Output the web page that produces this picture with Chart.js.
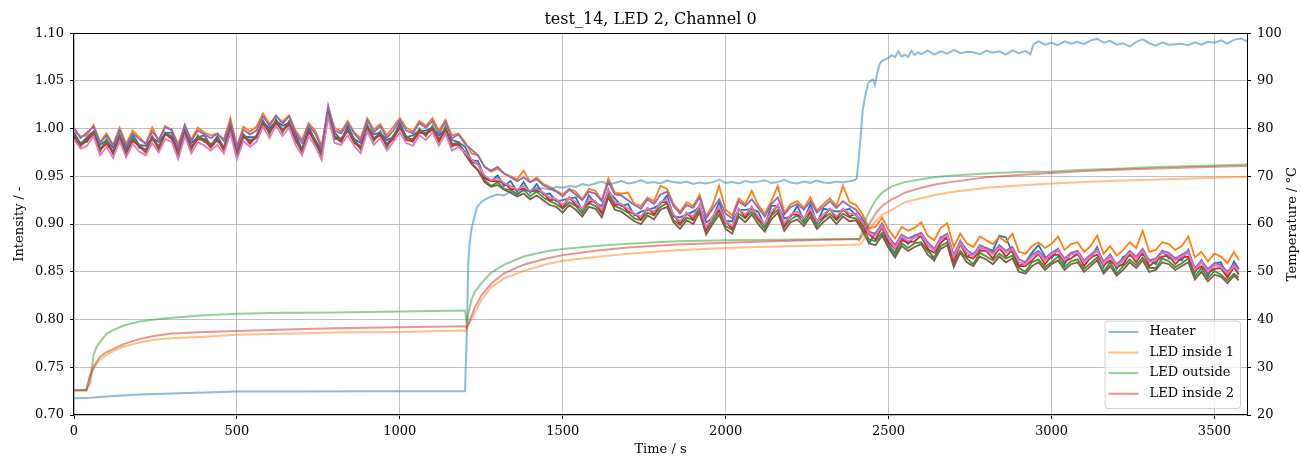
<!DOCTYPE html>
<html>
<head>
<meta charset="utf-8">
<script src="https://cdn.jsdelivr.net/npm/chart.js@4.4.1/dist/chart.umd.min.js"></script>
<style>
html, body { margin: 0; padding: 0; background: #fff; }
#wrap { width: 1301px; height: 457px; }
</style>
</head>
<body>
<div id="wrap"><canvas id="chart" width="1301" height="457"></canvas></div>
<script>
// time axis of the intensity samples (s)
var tInt = [
  0,20,40,60,80,100,120,140,160,180,
  200,220,240,260,280,300,320,340,360,380,
  400,420,440,460,480,500,520,540,560,580,
  600,620,640,660,680,700,720,740,760,780,
  800,820,840,860,880,900,920,940,960,980,
  1000,1020,1040,1060,1080,1100,1120,1140,1160,1180,
  1200,1220,1240,1260,1280,1300,1320,1340,1360,1380,
  1400,1420,1440,1460,1480,1500,1520,1540,1560,1580,
  1600,1620,1640,1660,1680,1700,1720,1740,1760,1780,
  1800,1820,1840,1860,1880,1900,1920,1940,1960,1980,
  2000,2020,2040,2060,2080,2100,2120,2140,2160,2180,
  2200,2220,2240,2260,2280,2300,2320,2340,2360,2380,
  2400,2420,2440,2460,2480,2500,2520,2540,2560,2580,
  2600,2620,2640,2660,2680,2700,2720,2740,2760,2780,
  2800,2820,2840,2860,2880,2900,2920,2940,2960,2980,
  3000,3020,3040,3060,3080,3100,3120,3140,3160,3180,
  3200,3220,3240,3260,3280,3300,3320,3340,3360,3380,
  3400,3420,3440,3460,3480,3500,3520,3540,3560,3575
];

// normalised intensity, one list per curve (left axis)
var int0 = [
  0.996,0.984,0.991,0.997,0.983,0.988,0.980,0.993,0.979,0.994,
  0.983,0.982,0.990,0.986,0.995,0.996,0.975,0.998,0.985,0.991,
  0.993,0.982,0.992,0.980,1.004,0.979,0.992,0.991,0.991,1.007,
  1.000,1.008,1.003,1.006,0.994,0.978,1.002,0.988,0.978,1.015,
  0.996,0.988,1.003,0.989,0.985,1.002,0.994,0.996,0.988,0.991,
  1.006,0.991,0.993,0.998,0.998,1.001,0.993,1.000,0.988,0.986,
  0.981,0.967,0.966,0.949,0.945,0.951,0.940,0.945,0.934,0.944,
  0.933,0.942,0.931,0.932,0.924,0.925,0.927,0.928,0.914,0.930,
  0.922,0.919,0.934,0.927,0.919,0.921,0.909,0.913,0.915,0.917,
  0.921,0.930,0.908,0.907,0.910,0.913,0.918,0.902,0.906,0.923,
  0.903,0.903,0.915,0.915,0.916,0.913,0.898,0.919,0.919,0.906,
  0.908,0.919,0.904,0.921,0.901,0.916,0.915,0.913,0.914,0.916,
  0.909,0.904,0.880,0.891,0.897,0.878,0.870,0.886,0.879,0.888,
  0.887,0.875,0.862,0.886,0.884,0.860,0.882,0.866,0.869,0.874,
  0.875,0.872,0.888,0.886,0.870,0.856,0.860,0.870,0.878,0.866,
  0.864,0.874,0.858,0.870,0.868,0.862,0.864,0.876,0.855,0.868,
  0.853,0.866,0.867,0.866,0.868,0.863,0.858,0.872,0.864,0.864,
  0.862,0.873,0.849,0.862,0.846,0.859,0.860,0.845,0.861,0.853
];
var int1 = [
  0.998,0.992,0.993,1.004,0.986,0.995,0.983,1.001,0.984,0.998,
  0.991,0.984,1.001,0.988,1.003,0.998,0.984,1.003,0.989,1.001,
  0.996,0.993,0.995,0.989,1.011,0.982,1.002,0.997,1.002,1.016,
  1.005,1.013,1.007,1.014,0.998,0.988,1.006,0.998,0.982,1.019,
  1.001,0.997,1.008,0.996,0.990,1.011,0.999,1.005,0.993,1.002,
  1.011,1.001,0.997,1.008,1.003,1.011,0.998,1.009,0.993,0.995,
  0.986,0.974,0.972,0.960,0.955,0.958,0.953,0.950,0.947,0.956,
  0.944,0.949,0.942,0.939,0.935,0.931,0.937,0.934,0.926,0.937,
  0.935,0.925,0.948,0.933,0.932,0.933,0.921,0.919,0.928,0.924,
  0.940,0.937,0.921,0.913,0.923,0.919,0.931,0.908,0.920,0.940,
  0.915,0.909,0.927,0.921,0.935,0.920,0.911,0.924,0.940,0.912,
  0.921,0.924,0.917,0.928,0.914,0.921,0.927,0.919,0.940,0.923,
  0.920,0.910,0.896,0.897,0.907,0.894,0.885,0.897,0.893,0.896,
  0.902,0.888,0.883,0.896,0.901,0.876,0.890,0.880,0.876,0.887,
  0.883,0.879,0.887,0.881,0.890,0.871,0.869,0.877,0.881,0.875,
  0.879,0.887,0.873,0.879,0.881,0.871,0.877,0.888,0.869,0.877,
  0.867,0.873,0.881,0.875,0.893,0.871,0.873,0.881,0.879,0.873,
  0.877,0.887,0.865,0.871,0.861,0.869,0.866,0.859,0.871,0.862
];
var int2 = [
  0.992,0.985,0.986,0.997,0.976,0.989,0.973,0.994,0.972,0.991,
  0.980,0.978,0.989,0.982,0.993,0.993,0.971,0.999,0.978,0.993,
  0.986,0.984,0.987,0.981,0.999,0.975,0.991,0.988,0.990,1.009,
  0.994,1.010,0.996,1.008,0.987,0.978,0.996,0.989,0.970,1.018,
  0.989,0.990,0.997,0.989,0.978,1.004,0.987,0.997,0.980,0.993,
  1.000,0.992,0.986,1.000,0.992,1.003,0.986,1.002,0.981,0.986,
  0.973,0.964,0.957,0.946,0.940,0.944,0.937,0.936,0.931,0.936,
  0.929,0.934,0.928,0.924,0.921,0.916,0.923,0.919,0.911,0.922,
  0.919,0.911,0.931,0.919,0.916,0.912,0.906,0.904,0.912,0.909,
  0.918,0.922,0.904,0.899,0.907,0.904,0.915,0.893,0.903,0.914,
  0.898,0.894,0.911,0.906,0.913,0.904,0.895,0.909,0.915,0.897,
  0.905,0.909,0.901,0.912,0.898,0.906,0.911,0.904,0.911,0.907,
  0.906,0.895,0.884,0.882,0.891,0.878,0.867,0.880,0.875,0.880,
  0.881,0.872,0.865,0.877,0.881,0.858,0.872,0.864,0.858,0.870,
  0.866,0.862,0.869,0.864,0.867,0.854,0.850,0.860,0.863,0.855,
  0.860,0.866,0.855,0.861,0.863,0.853,0.859,0.865,0.850,0.860,
  0.848,0.856,0.863,0.857,0.865,0.854,0.854,0.864,0.861,0.855,
  0.859,0.864,0.845,0.854,0.843,0.851,0.847,0.841,0.848,0.844
];
var int3 = [
  0.991,0.982,0.988,0.994,0.978,0.984,0.975,0.990,0.975,0.987,
  0.982,0.975,0.991,0.978,0.995,0.989,0.974,0.995,0.980,0.989,
  0.988,0.980,0.989,0.977,1.001,0.970,0.993,0.984,0.992,1.005,
  0.996,1.006,0.998,1.004,0.989,0.975,0.998,0.985,0.973,1.014,
  0.991,0.986,0.999,0.985,0.980,1.000,0.989,0.993,0.983,0.989,
  1.002,0.988,0.987,0.996,0.994,0.999,0.987,0.998,0.983,0.983,
  0.976,0.965,0.963,0.948,0.945,0.945,0.943,0.937,0.936,0.937,
  0.934,0.935,0.933,0.925,0.926,0.917,0.928,0.920,0.916,0.923,
  0.924,0.912,0.936,0.920,0.921,0.913,0.911,0.905,0.917,0.910,
  0.923,0.923,0.910,0.900,0.912,0.905,0.920,0.894,0.908,0.915,
  0.903,0.895,0.916,0.907,0.918,0.905,0.900,0.910,0.920,0.898,
  0.910,0.910,0.906,0.913,0.903,0.907,0.916,0.905,0.916,0.908,
  0.911,0.898,0.889,0.884,0.897,0.881,0.874,0.883,0.881,0.882,
  0.888,0.874,0.870,0.880,0.887,0.861,0.879,0.866,0.864,0.872,
  0.872,0.864,0.875,0.866,0.873,0.856,0.856,0.862,0.869,0.858,
  0.867,0.868,0.861,0.864,0.869,0.856,0.865,0.868,0.857,0.862,
  0.855,0.858,0.869,0.860,0.871,0.856,0.861,0.866,0.867,0.858,
  0.865,0.866,0.851,0.856,0.849,0.853,0.854,0.844,0.855,0.847
];
var int4 = [
  1.001,0.990,0.996,1.002,0.985,0.993,0.982,0.999,0.982,0.995,
  0.989,0.984,0.997,0.988,1.001,0.999,0.980,1.004,0.987,0.998,
  0.994,0.990,0.995,0.987,1.007,0.981,0.999,0.994,0.998,1.013,
  1.003,1.014,1.005,1.013,0.996,0.985,1.004,0.995,0.980,1.024,
  0.998,0.995,1.006,0.995,0.987,1.009,0.996,1.003,0.990,0.998,
  1.009,0.998,0.995,1.006,1.001,1.008,0.995,1.007,0.990,0.994,
  0.984,0.978,0.972,0.960,0.956,0.960,0.953,0.949,0.945,0.949,
  0.944,0.947,0.941,0.937,0.934,0.929,0.936,0.931,0.925,0.934,
  0.932,0.924,0.944,0.931,0.930,0.925,0.920,0.916,0.926,0.921,
  0.931,0.934,0.919,0.911,0.920,0.917,0.928,0.906,0.916,0.926,
  0.911,0.906,0.924,0.919,0.926,0.917,0.908,0.921,0.928,0.910,
  0.918,0.921,0.915,0.924,0.912,0.918,0.924,0.917,0.924,0.919,
  0.915,0.906,0.892,0.890,0.901,0.887,0.878,0.889,0.885,0.888,
  0.891,0.881,0.874,0.886,0.890,0.868,0.882,0.873,0.868,0.878,
  0.875,0.870,0.878,0.872,0.876,0.863,0.860,0.868,0.872,0.864,
  0.870,0.874,0.864,0.870,0.872,0.862,0.868,0.874,0.861,0.868,
  0.858,0.864,0.872,0.866,0.874,0.862,0.864,0.872,0.870,0.864,
  0.868,0.872,0.854,0.862,0.853,0.859,0.857,0.850,0.858,0.853
];
var int5 = [
  0.994,0.983,0.989,0.996,0.979,0.986,0.976,0.992,0.976,0.989,
  0.983,0.977,0.992,0.980,0.996,0.991,0.975,0.997,0.981,0.991,
  0.989,0.982,0.990,0.979,1.002,0.973,0.994,0.986,0.993,1.007,
  0.997,1.008,0.999,1.006,0.990,0.977,0.999,0.987,0.974,1.016,
  0.992,0.988,1.000,0.987,0.981,1.002,0.990,0.995,0.984,0.991,
  1.003,0.990,0.989,0.998,0.995,1.001,0.989,1.000,0.984,0.985,
  0.974,0.963,0.956,0.944,0.939,0.941,0.936,0.933,0.929,0.932,
  0.926,0.930,0.925,0.920,0.918,0.912,0.920,0.915,0.908,0.918,
  0.916,0.907,0.928,0.915,0.913,0.908,0.903,0.900,0.909,0.905,
  0.915,0.918,0.902,0.895,0.904,0.900,0.912,0.889,0.900,0.910,
  0.895,0.890,0.908,0.902,0.910,0.900,0.892,0.905,0.912,0.893,
  0.902,0.905,0.898,0.908,0.895,0.902,0.908,0.900,0.908,0.903,
  0.904,0.893,0.880,0.878,0.888,0.875,0.865,0.877,0.872,0.876,
  0.879,0.868,0.862,0.874,0.878,0.855,0.870,0.860,0.856,0.866,
  0.863,0.858,0.866,0.860,0.864,0.850,0.848,0.856,0.860,0.852,
  0.858,0.862,0.852,0.858,0.860,0.850,0.856,0.862,0.848,0.856,
  0.846,0.852,0.860,0.854,0.862,0.850,0.852,0.860,0.858,0.852,
  0.856,0.860,0.842,0.850,0.840,0.847,0.845,0.838,0.846,0.841
];
var int6 = [
  0.989,0.979,0.982,0.992,0.972,0.981,0.969,0.987,0.970,0.984,
  0.976,0.972,0.985,0.975,0.989,0.986,0.968,0.992,0.974,0.986,
  0.982,0.977,0.983,0.974,0.995,0.968,0.987,0.981,0.986,1.002,
  0.990,1.003,0.992,1.001,0.983,0.972,0.992,0.982,0.967,1.012,
  0.985,0.983,0.993,0.982,0.974,0.997,0.983,0.990,0.977,0.986,
  0.996,0.985,0.982,0.993,0.988,0.996,0.982,0.995,0.977,0.981,
  0.975,0.968,0.962,0.951,0.946,0.948,0.943,0.940,0.936,0.940,
  0.934,0.938,0.933,0.928,0.926,0.920,0.928,0.923,0.916,0.926,
  0.924,0.915,0.936,0.923,0.921,0.916,0.911,0.908,0.917,0.913,
  0.923,0.926,0.910,0.903,0.912,0.908,0.920,0.897,0.908,0.918,
  0.903,0.898,0.916,0.910,0.918,0.908,0.900,0.913,0.920,0.901,
  0.910,0.913,0.906,0.916,0.903,0.910,0.916,0.908,0.916,0.911,
  0.910,0.902,0.890,0.888,0.898,0.885,0.875,0.887,0.882,0.886,
  0.889,0.878,0.872,0.884,0.888,0.865,0.880,0.870,0.866,0.876,
  0.873,0.868,0.876,0.870,0.874,0.860,0.858,0.866,0.870,0.862,
  0.868,0.872,0.862,0.868,0.870,0.860,0.866,0.872,0.858,0.866,
  0.856,0.862,0.870,0.864,0.872,0.860,0.862,0.870,0.868,0.862,
  0.866,0.870,0.852,0.860,0.850,0.857,0.855,0.848,0.856,0.851
];

// heater temperature (right axis, deg C)
var heaterTime = [
  0,50,100,150,200,300,400,500,700,900,
  1100,1200,1203,1206,1210,1215,1220,1227,1237,1250,
  1260,1280,1300,1320,1340,1360,1380,1400,1420,1440,
  1460,1480,1500,1520,1540,1560,1580,1600,1620,1640,
  1660,1680,1700,1720,1740,1760,1780,1800,1820,1840,
  1860,1880,1900,1920,1940,1960,1980,2000,2020,2040,
  2060,2080,2100,2120,2140,2160,2180,2200,2220,2240,
  2260,2280,2300,2320,2340,2360,2380,2395,2402,2408,
  2414,2420,2426,2432,2438,2445,2452,2458,2465,2472,
  2480,2490,2500,2510,2520,2530,2540,2550,2560,2570,
  2580,2590,2600,2620,2640,2660,2680,2700,2720,2740,
  2760,2780,2800,2820,2840,2860,2880,2900,2920,2935,
  2945,2960,2980,3000,3020,3040,3060,3080,3100,3120,
  3140,3160,3180,3200,3220,3240,3260,3280,3300,3320,
  3340,3360,3380,3400,3420,3440,3460,3480,3500,3520,
  3540,3560,3580,3600
];
var heaterTemp = [
  23.5,23.6,23.9,24.1,24.3,24.5,24.7,24.9,24.9,25.0,
  25.0,25.0,25.0,38.0,52.0,56.5,59.0,61.0,63.6,64.6,
  65.1,65.8,66.2,66.0,66.8,66.5,67.1,66.9,67.3,67.5,
  67.2,67.8,67.6,68.0,67.8,68.4,68.1,68.5,68.9,68.3,
  68.6,69.0,68.5,68.7,69.2,68.6,68.8,68.5,69.1,68.8,
  68.6,68.9,68.4,68.7,68.5,68.8,69.3,68.6,68.8,68.5,
  69.0,68.7,68.9,69.2,68.6,68.8,69.3,68.7,68.5,68.9,
  68.6,69.1,68.7,68.6,68.9,68.7,69.0,69.2,69.5,73.5,
  78.0,83.5,86.0,88.0,89.6,90.0,90.3,89.2,91.5,93.5,
  94.2,94.5,94.9,95.4,95.0,96.2,95.1,95.5,95.0,96.3,
  95.4,96.0,95.6,96.4,95.5,96.2,95.7,96.5,95.8,96.1,
  96.0,95.6,96.3,95.9,96.2,95.5,96.4,95.8,96.3,95.6,
  97.7,98.3,97.6,98.0,97.5,98.3,97.8,98.2,97.7,98.5,
  98.8,98.0,98.4,97.6,97.9,97.2,98.2,98.7,97.9,97.4,
  98.1,97.6,97.7,97.8,97.5,98.1,97.6,98.2,98.0,98.5,
  97.8,98.6,98.9,98.3
];

// LED temperatures (right axis, deg C)
var ledTime = [
  0,38,42,50,60,70,80,100,120,150,
  200,250,300,400,500,650,800,1000,1200,1205,
  1210,1220,1230,1250,1280,1320,1380,1450,1500,1600,
  1700,1850,2000,2150,2300,2405,2410,2420,2430,2445,
  2460,2480,2510,2550,2600,2650,2700,2800,2900,3000,
  3100,3200,3300,3400,3500,3600
];
var ledInside1 = [
  25.2,25.2,26.0,28.2,29.6,30.8,31.6,32.6,33.4,34.3,
  35.2,35.8,36.1,36.4,36.8,37.0,37.3,37.4,37.7,37.6,
  39.0,40.0,41.4,44.0,46.8,48.6,50.2,51.6,52.3,53.1,
  53.8,54.5,55.0,55.3,55.5,55.7,55.6,56.3,57.5,59.3,
  60.6,62.0,63.0,64.6,65.4,66.2,66.8,67.6,68.1,68.5,
  68.8,69.1,69.3,69.5,69.7,69.9
];
var ledOutside = [
  25.2,25.2,25.8,26.7,32.6,34.4,35.3,37.0,37.8,38.7,
  39.6,40.0,40.4,40.9,41.2,41.4,41.5,41.7,41.9,39.2,
  41.0,44.2,45.8,47.6,49.8,51.5,53.2,54.3,54.8,55.4,
  55.9,56.4,56.6,56.7,56.8,56.9,57.0,58.5,61.0,63.2,
  65.0,66.6,67.9,68.8,69.4,69.9,70.2,70.6,70.9,71.0,
  71.4,71.6,71.9,72.1,72.3,72.5
];
var ledInside2 = [
  25.2,25.2,26.5,28.5,30.1,31.2,32.2,33.2,33.8,34.8,
  35.9,36.6,37.1,37.4,37.6,37.9,38.2,38.4,38.6,38.2,
  39.0,40.8,42.5,45.0,47.5,49.7,51.5,52.8,53.5,54.4,
  55.1,55.7,56.1,56.4,56.7,56.9,56.6,57.6,58.8,60.5,
  62.2,63.8,65.2,66.6,67.6,68.4,68.9,69.8,70.3,70.7,
  71.1,71.4,71.6,71.8,72.0,72.2
];

// axis ticks
var xTicks = [0,500,1000,1500,2000,2500,3000,3500];
var yTicks = [0.70,0.75,0.80,0.85,0.90,0.95,1.00,1.05,1.10];
var tempTicks = [20,30,40,50,60,70,80,90,100];

var tab10 = ['#1f77b4','#ff7f0e','#2ca02c','#d62728','#9467bd','#8c564b','#e377c2'];
var tempColors = ['rgba(31,119,180,0.5)','rgba(255,127,14,0.5)','rgba(44,160,44,0.5)','rgba(214,39,40,0.5)'];

function pairs(xs, ys) {
  return xs.map(function(x, i) { return {x: x, y: ys[i]}; });
}

var datasets = [];
[int0, int1, int2, int3, int4, int5, int6].forEach(function(arr, i) {
  datasets.push({
    label: 'Intensity ' + i,
    data: pairs(tInt, arr),
    yAxisID: 'y',
    borderColor: tab10[i],
    borderWidth: 1.8,
    pointRadius: 0,
    order: 20 - i
  });
});
var tempSeries = [
  ['Heater', heaterTime, heaterTemp],
  ['LED inside 1', ledTime, ledInside1],
  ['LED outside', ledTime, ledOutside],
  ['LED inside 2', ledTime, ledInside2]
];
tempSeries.forEach(function(s, j) {
  datasets.push({
    label: s[0],
    data: pairs(s[1], s[2]),
    yAxisID: 'yT',
    borderColor: tempColors[j],
    borderWidth: 2,
    pointRadius: 0,
    order: 10 - j,
    inLegend: true
  });
});

var extras = {
  id: 'extras',
  afterDatasetsDraw: function(chart) {
    var a = chart.chartArea, ctx = chart.ctx;
    ctx.save();
    ctx.strokeStyle = '#000';
    ctx.lineWidth = 1;
    ctx.strokeRect(Math.round(a.left) - 0.5, Math.round(a.top) + 0.5,
      Math.round(a.right) - Math.round(a.left) + 1, Math.round(a.bottom) - Math.round(a.top) - 1);
    ctx.restore();
  },
  afterDraw: function(chart) {
    var a = chart.chartArea, ctx = chart.ctx;
    ctx.save();
    // right axis label, reading bottom to top
    ctx.font = '13px "DejaVu Serif"';
    ctx.fillStyle = '#000';
    ctx.textAlign = 'center';
    ctx.textBaseline = 'middle';
    ctx.translate(1293, (a.top + a.bottom) / 2);
    ctx.rotate(-Math.PI / 2);
    ctx.fillText('Temperature / °C', 0, 0);
    ctx.restore();

    // legend for the temperature curves
    var items = chart.data.datasets.filter(function(d) { return d.inLegend; });
    ctx.save();
    ctx.font = '13px "DejaVu Serif"';
    var textW = 0;
    items.forEach(function(d) { textW = Math.max(textW, ctx.measureText(d.label).width); });
    var rowH = 20.6;
    var w = 45 + textW + 6;
    var h = items.length * rowH + 5;
    var x0 = a.right - 7 - w, y0 = a.bottom - 7 - h;
    ctx.beginPath();
    ctx.roundRect(x0 + 0.5, y0 + 0.5, w, h, 3);
    ctx.fillStyle = 'rgba(255,255,255,0.8)';
    ctx.fill();
    ctx.strokeStyle = '#d0d0d0';
    ctx.lineWidth = 1;
    ctx.stroke();
    items.forEach(function(d, k) {
      var yy = y0 + 11.3 + k * rowH;
      ctx.beginPath();
      ctx.moveTo(x0 + 4, yy);
      ctx.lineTo(x0 + 34, yy);
      ctx.strokeStyle = d.borderColor;
      ctx.lineWidth = 2;
      ctx.stroke();
      ctx.fillStyle = '#000';
      ctx.textAlign = 'left';
      ctx.textBaseline = 'middle';
      ctx.fillText(d.label, x0 + 45, yy);
    });
    ctx.restore();
  }
};

Chart.defaults.font.family = '"DejaVu Serif", serif';
Chart.defaults.color = '#000';

new Chart(document.getElementById('chart'), {
  type: 'line',
  data: { datasets: datasets },
  options: {
    responsive: false,
    animation: false,
    devicePixelRatio: 1,
    layout: { padding: 0 },
    elements: { line: { tension: 0 } },
    plugins: {
      legend: { display: false },
      tooltip: { enabled: false },
      title: {
        display: true,
        text: 'test_14, LED 2, Channel 0',
        font: { size: 16, weight: 'normal' },
        padding: { top: 10, bottom: 4 },
        color: '#000'
      }
    },
    scales: {
      x: {
        type: 'linear',
        position: 'bottom',
        min: 0,
        max: 3600,
        afterBuildTicks: function(s) { s.ticks = xTicks.map(function(v) { return {value: v}; }); },
        afterFit: function(s) { s.height = 42; },
        ticks: { font: { size: 13 }, padding: 5, maxRotation: 0, color: '#000', callback: function(v) { return String(v); } },
        grid: { color: '#b0b0b0', lineWidth: 0.8, tickLength: 4, tickColor: '#000', tickWidth: 1 },
        border: { display: false },
        title: { display: true, text: 'Time / s', font: { size: 13 }, padding: { top: 0, bottom: 0 }, color: '#000' }
      },
      y: {
        type: 'linear',
        position: 'left',
        min: 0.70,
        max: 1.10,
        afterBuildTicks: function(s) { s.ticks = yTicks.map(function(v) { return {value: v}; }); },
        afterFit: function(s) { s.width = 74; },
        ticks: { font: { size: 13 }, padding: 6, color: '#000', callback: function(v) { return Number(v).toFixed(2); } },
        grid: { color: '#b0b0b0', lineWidth: 0.8, tickLength: 4, tickColor: '#000', tickWidth: 1 },
        border: { display: false },
        title: { display: true, text: 'Intensity / -', font: { size: 13 }, padding: { top: 12, bottom: 0 }, color: '#000' }
      },
      yT: {
        type: 'linear',
        position: 'right',
        min: 20,
        max: 100,
        afterBuildTicks: function(s) { s.ticks = tempTicks.map(function(v) { return {value: v}; }); },
        afterFit: function(s) { s.width = 54; },
        ticks: { font: { size: 13 }, padding: 6, color: '#000' },
        grid: { drawOnChartArea: false, tickLength: 4, tickColor: '#000', tickWidth: 1 },
        border: { display: false }
      }
    }
  },
  plugins: [extras]
});
</script>
</body>
</html>
